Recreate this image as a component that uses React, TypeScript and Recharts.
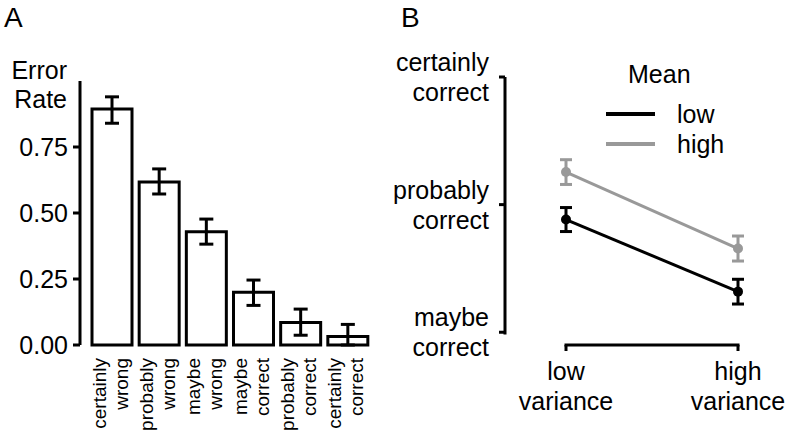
import React from 'react';
import { BarChart, Bar, ErrorBar, LineChart, Line, XAxis, YAxis, Legend } from 'recharts';

const FONT = '"Liberation Sans", Arial, Helvetica, sans-serif';

// Panel A: error rate for each confidence rating
const ratingLabels = [
  'certainly wrong',
  'probably wrong',
  'maybe wrong',
  'maybe correct',
  'probably correct',
  'certainly correct',
];
const errorRates = [0.894, 0.617, 0.429, 0.2, 0.085, 0.032];
const errorLower = [0.84, 0.572, 0.382, 0.15, 0.037, 0.0];
const errorUpper = [0.94, 0.667, 0.477, 0.246, 0.136, 0.078];
const rateTicks = [0, 0.25, 0.5, 0.75];

// Panel B: mean confidence by variance, one line per mean level
const varianceLabels = ['low variance', 'high variance'];
const confidenceTicks = [1, 2, 3];
const confidenceNames: Record<number, string> = {
  1: 'maybe correct',
  2: 'probably correct',
  3: 'certainly correct',
};
const lowMeanConf = [1.883, 1.318];
const lowMeanSE = [0.094, 0.097];
const highMeanConf = [2.255, 1.656];
const highMeanSE = [0.097, 0.098];
const legendOrder = ['low', 'high'];

const rateData = ratingLabels.map((name, i) => ({
  name,
  rate: errorRates[i],
  err: [errorRates[i] - errorLower[i], errorUpper[i] - errorRates[i]],
}));

const confData = varianceLabels.map((name, i) => ({
  name,
  low: lowMeanConf[i],
  lowSE: lowMeanSE[i],
  high: highMeanConf[i],
  highSE: highMeanSE[i],
}));

const GREY = '#999999';

// two-line rotated category labels under the bars
function RateTick({ x, y, payload }: any) {
  const [a, b] = String(payload.value).split(' ');
  const common = { textAnchor: 'end' as const, fontSize: 19, fill: '#000', fontFamily: FONT };
  return (
    <g>
      <text transform={`translate(${x - 6},${y + 13}) rotate(-90)`} {...common}>{a}</text>
      <text transform={`translate(${x + 16},${y + 13}) rotate(-90)`} {...common}>{b}</text>
    </g>
  );
}

function ErrorRateLabel({ viewBox }: any) {
  const vb = viewBox || { x: 0, y: 81, width: 80 };
  const x = vb.x + vb.width - 13;
  return (
    <text textAnchor="end" fontSize={25} fill="#000" fontFamily={FONT}>
      <tspan x={x} y={vb.y - 2}>Error</tspan>
      <tspan x={x} y={vb.y + 27}>Rate</tspan>
    </text>
  );
}

function ConfTick({ x, y, payload }: any) {
  const [a, b] = confidenceNames[payload.value].split(' ');
  return (
    <text textAnchor="end" fontSize={25} fill="#000" fontFamily={FONT}>
      <tspan x={x} y={y - 6}>{a}</tspan>
      <tspan x={x} y={y + 24}>{b}</tspan>
    </text>
  );
}

function VarTick({ x, y, payload }: any) {
  const [a, b] = String(payload.value).split(' ');
  return (
    <text textAnchor="middle" fontSize={25} fill="#000" fontFamily={FONT}>
      <tspan x={x} y={y + 29}>{a}</tspan>
      <tspan x={x} y={y + 59}>{b}</tspan>
    </text>
  );
}

function MeanLegend({ payload }: any) {
  const items = [...(payload || [])].sort(
    (p: any, q: any) => legendOrder.indexOf(p.value) - legendOrder.indexOf(q.value)
  );
  return (
    <svg width={150} height={110} style={{ display: 'block' }}>
      <text x={28} y={28} fontSize={25} fill="#000" fontFamily={FONT}>Mean</text>
      {items.map((it: any, i: number) => (
        <g key={it.value}>
          <line x1={6} x2={55} y1={59 + i * 30} y2={59 + i * 30} stroke={it.color} strokeWidth={4} />
          <text x={77} y={68 + i * 30} fontSize={25} fill="#000" fontFamily={FONT}>{it.value}</text>
        </g>
      ))}
    </svg>
  );
}

export default function App() {
  return (
    <div style={{ position: 'absolute', left: 0, top: 0, width: 788, height: 432, background: '#fff', fontFamily: FONT }}>
      <div style={{ position: 'absolute', left: 0, top: 0 }}>
        <BarChart width={380} height={432} data={rateData} margin={{ top: 81, right: 9, left: 0, bottom: 0 }}>
          <XAxis
            dataKey="name"
            axisLine={false}
            tickLine={false}
            tickSize={0}
            tickMargin={0}
            height={87}
            interval={0}
            padding={{ left: 8, right: 0 }}
            tick={<RateTick />}
          />
          <YAxis
            width={80}
            domain={[0, 1]}
            ticks={rateTicks}
            tickFormatter={(v: number) => v.toFixed(2)}
            axisLine={{ stroke: '#000', strokeWidth: 3 }}
            tickLine={{ stroke: '#000', strokeWidth: 3 }}
            tickSize={7}
            tickMargin={5}
            tick={{ fontSize: 25, fill: '#000', fontFamily: FONT }}
            label={{ content: <ErrorRateLabel /> }}
          />
          <Bar dataKey="rate" fill="#fff" stroke="#000" strokeWidth={3} barSize={40} isAnimationActive={false}>
            <ErrorBar dataKey="err" direction="y" width={7} stroke="#000" strokeWidth={3} isAnimationActive={false} />
          </Bar>
        </BarChart>
      </div>
      <div style={{ position: 'absolute', left: 380, top: 0 }}>
        <LineChart width={408} height={432} data={confData} margin={{ top: 77, right: 0, left: 0, bottom: 0 }}>
          <XAxis
            dataKey="name"
            type="category"
            scale="point"
            padding={{ left: 61, right: 50 }}
            height={87}
            axisLine={{ stroke: '#000', strokeWidth: 3, strokeDasharray: '0 59.5 175 1000' }}
            tickLine={{ stroke: '#000', strokeWidth: 3 }}
            tickSize={6}
            tickMargin={0}
            tick={<VarTick />}
          />
          <YAxis
            width={125}
            domain={[0.9, 3]}
            ticks={confidenceTicks}
            axisLine={{ stroke: '#000', strokeWidth: 3, strokeDasharray: '257.5 1000' }}
            tickLine={{ stroke: '#000', strokeWidth: 3 }}
            tickSize={6}
            tickMargin={10}
            tick={<ConfTick />}
          />
          <Legend
            layout="vertical"
            align="center"
            verticalAlign="middle"
            wrapperStyle={{ left: 220, top: 55, width: 150, height: 110 }}
            content={<MeanLegend />}
          />
          <Line
            dataKey="low"
            name="low"
            stroke="#000"
            strokeWidth={3}
            dot={{ r: 5, fill: '#000', stroke: '#000', strokeWidth: 0 }}
            isAnimationActive={false}
          >
            <ErrorBar dataKey="lowSE" direction="y" width={6} stroke="#000" strokeWidth={3} isAnimationActive={false} />
          </Line>
          <Line
            dataKey="high"
            name="high"
            stroke={GREY}
            strokeWidth={3}
            dot={{ r: 5, fill: GREY, stroke: GREY, strokeWidth: 0 }}
            isAnimationActive={false}
          >
            <ErrorBar dataKey="highSE" direction="y" width={6} stroke={GREY} strokeWidth={3} isAnimationActive={false} />
          </Line>
        </LineChart>
      </div>
      <svg width={788} height={432} style={{ position: 'absolute', left: 0, top: 0, pointerEvents: 'none' }}>
        <text x={4} y={27} fontSize={28} fill="#000" fontFamily={FONT}>A</text>
        <text x={401} y={27} fontSize={28} fill="#000" fontFamily={FONT}>B</text>
      </svg>
    </div>
  );
}
